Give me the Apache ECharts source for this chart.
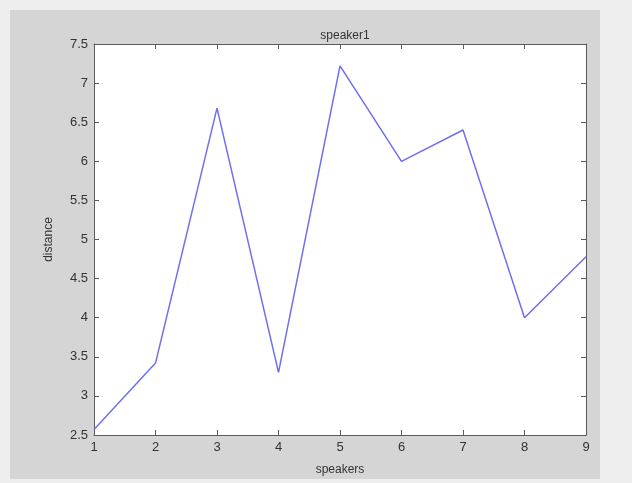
<!DOCTYPE html>
<html>
<head>
<meta charset="utf-8">
<script src="https://cdn.jsdelivr.net/npm/echarts@6/dist/echarts.min.js"></script>
<style>
  html, body { margin: 0; padding: 0; background: #eeeeee; }
  #main { width: 632px; height: 483px; }
</style>
</head>
<body>
<div id="main"></div>
<script>
// speakers on x, distance on y
var speakers = [1, 2, 3, 4, 5, 6, 7, 8, 9];
var distance = [2.57, 3.42, 6.68, 3.3, 7.22, 6.0, 6.4, 4.0, 4.78];

var chart = echarts.init(document.getElementById('main'));

var font = "'Liberation Sans', Arial, sans-serif";
var axisCol = '#5a5a5a';

// box axis settings (matlab look, ticks pointing inwards)
function boxAxis(pos, showLabel) {
  return {
    position: pos,
    axisLine: { show: true, onZero: false, lineStyle: { color: axisCol, width: 1 } },
    axisTick: { show: true, inside: true, length: 5, lineStyle: { color: axisCol } },
    axisLabel: { show: showLabel, color: '#333', fontSize: 13, fontFamily: font, margin: 6 },
    splitLine: { show: false }
  };
}

var xBottom = Object.assign(boxAxis('bottom', true), {
  type: 'value', min: 1, max: 9, interval: 1,
  name: 'speakers', nameLocation: 'middle', nameGap: 29,
  nameTextStyle: { color: '#333', fontSize: 12, fontFamily: font }
});
var xTop = Object.assign(boxAxis('top', false), { type: 'value', min: 1, max: 9, interval: 1 });
var yLeft = Object.assign(boxAxis('left', true), {
  type: 'value', min: 2.5, max: 7.5, interval: 0.5,
  name: 'distance', nameLocation: 'middle', nameGap: 39,
  nameTextStyle: { color: '#333', fontSize: 12, fontFamily: font }
});
var yRight = Object.assign(boxAxis('right', false), { type: 'value', min: 2.5, max: 7.5, interval: 0.5 });

var option = {
  backgroundColor: '#eeeeee',
  animation: false,
  graphic: [{
    type: 'rect', z: -10, silent: true,
    shape: { x: 10, y: 10, width: 590, height: 469 },
    style: { fill: '#d5d5d5' }
  }],
  title: {
    text: 'speaker1',
    left: 340, textAlign: 'center', top: 25,
    textStyle: { color: '#333', fontSize: 12, fontWeight: 'normal', fontFamily: font }
  },
  grid: {
    left: 94, right: 46, top: 44, bottom: 48,
    show: true, backgroundColor: '#ffffff', borderWidth: 0
  },
  xAxis: [xBottom, xTop],
  yAxis: [yLeft, yRight],
  series: [{
    type: 'line',
    data: speakers.map(function (s, i) { return [s, distance[i]]; }),
    showSymbol: false,
    lineStyle: { color: '#6f6ff0', width: 1.5 }
  }]
};

chart.setOption(option);
</script>
</body>
</html>
